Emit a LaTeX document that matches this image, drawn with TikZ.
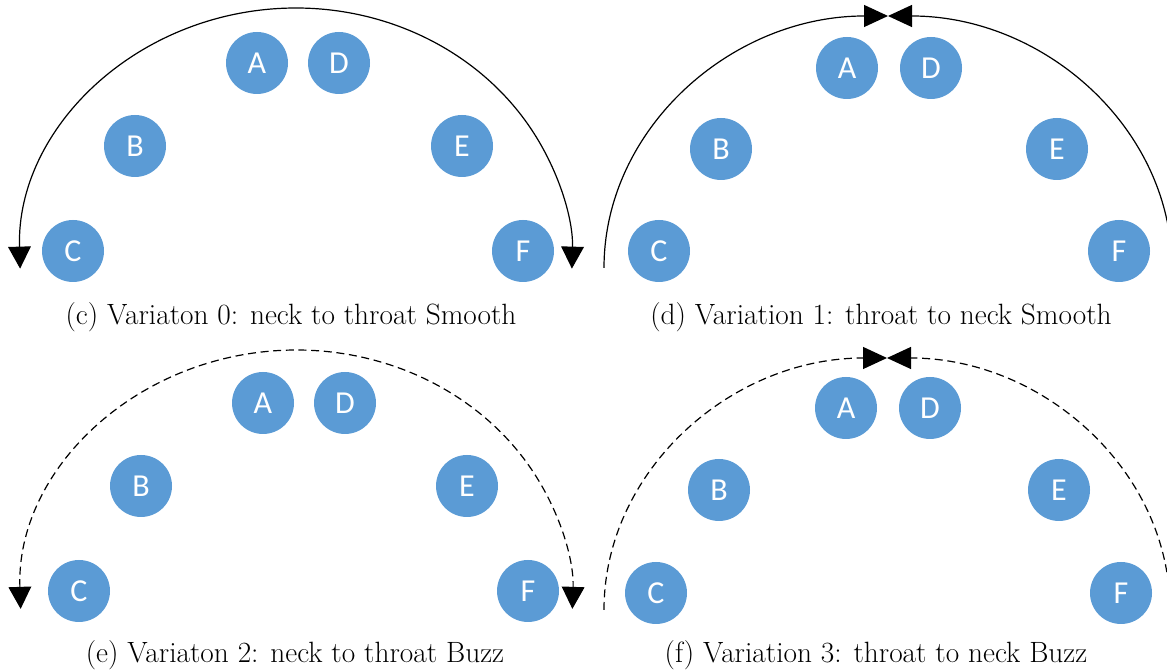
\documentclass[tikz,border=0pt]{standalone}
\usepackage{fontspec}
\newfontfamily\lblfont{Carlito}
\usetikzlibrary{arrows.meta,calc}
\definecolor{dotblue}{HTML}{5B9BD5}
\tikzset{
  singer/.style={circle, fill=dotblue, minimum size=46.5pt, inner sep=0pt,
    text=white, font=\lblfont\fontsize{24}{24}\selectfont},
  sweep/.style={line width=0.9pt, black},
  buzz/.style={dash pattern=on 6pt off 3.5pt},
  capt/.style={font=\fontsize{22}{26}\selectfont, inner sep=0pt, anchor=base},
  downtip/.tip={Triangle[width=17pt,length=16.5pt]},
  toptip/.tip={Triangle[width=16.5pt,length=18pt]}
}
\begin{document}
\begin{tikzpicture}[x=0.75pt,y=0.75pt]
\useasboundingbox (0,0) rectangle (1167,670);
\clip (0,0) rectangle (1167,670);

% ---- (c) neck to throat, smooth ----
\coordinate (c-ctr) at (296,408);
\draw[sweep, downtip-downtip] ($(c-ctr)+(181.5:276 and 254)$) coordinate (c-l)
  arc[start angle=181.5, end angle=-1.5, x radius=276, y radius=254] coordinate (c-r);
\node[singer] (cA) at (257,607) {A};
\node[singer] (cD) at (339,607) {D};
\node[singer] (cB) at (135,524) {B};
\node[singer] (cE) at (462,524) {E};
\node[singer] (cC) at (73,419) {C};
\node[singer] (cF) at (523,419) {F};
\node[capt] (c-cap) at (291,345) {(c) Variaton 0: neck to throat Smooth};

% ---- (d) throat to neck, smooth ----
\coordinate (d-ctr) at (888,402);
\draw[sweep, -toptip] ($(d-ctr)+(180:284 and 252)$) coordinate (d-l)
  arc[start angle=180, end angle=90, x radius=284, y radius=252];
\draw[sweep, -toptip] ($(d-ctr)+(0:284 and 252)$) coordinate (d-r)
  arc[start angle=0, end angle=90, x radius=284, y radius=252];
\node[singer] (dA) at (847,602) {A};
\node[singer] (dD) at (931,602) {D};
\node[singer] (dB) at (721,521) {B};
\node[singer] (dE) at (1057,521) {E};
\node[singer] (dC) at (659,419) {C};
\node[singer] (dF) at (1119,419) {F};
\node[capt] (d-cap) at (881,345) {(d) Variation 1: throat to neck Smooth};

% ---- (e) neck to throat, buzz ----
\coordinate (e-ctr) at (296.5,69);
\draw[sweep, buzz, downtip-downtip] ($(e-ctr)+(181.8:276 and 251)$) coordinate (e-l)
  arc[start angle=181.8, end angle=-1.8, x radius=276, y radius=251] coordinate (e-r);
\node[singer] (eA) at (263,267) {A};
\node[singer] (eD) at (345,267) {D};
\node[singer] (eB) at (141,184) {B};
\node[singer] (eE) at (467,184) {E};
\node[singer] (eC) at (79,79) {C};
\node[singer] (eF) at (528,79) {F};
\node[capt] (e-cap) at (295,7) {(e) Variaton 2: neck to throat Buzz};

% ---- (f) throat to neck, buzz ----
\coordinate (f-ctr) at (887,60);
\draw[sweep, buzz, -toptip] ($(f-ctr)+(180:283 and 252)$) coordinate (f-l)
  arc[start angle=180, end angle=90, x radius=283, y radius=252];
\draw[sweep, buzz, -toptip] ($(f-ctr)+(0:283 and 252)$) coordinate (f-r)
  arc[start angle=0, end angle=90, x radius=283, y radius=252];
\node[singer] (fA) at (846,262) {A};
\node[singer] (fD) at (930,262) {D};
\node[singer] (fB) at (719,180) {B};
\node[singer] (fE) at (1059,180) {E};
\node[singer] (fC) at (656,77) {C};
\node[singer] (fF) at (1121,77) {F};
\node[capt] (f-cap) at (876,7) {(f) Variation 3: throat to neck Buzz};
\end{tikzpicture}
\end{document}
